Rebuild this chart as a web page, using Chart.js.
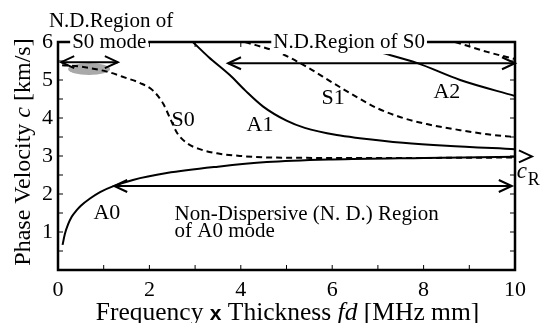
<!DOCTYPE html>
<html>
<head>
<meta charset="utf-8">
<script src="https://cdn.jsdelivr.net/npm/chart.js@4.4.0/dist/chart.umd.min.js"></script>
<style>
    html, body { margin: 0; padding: 0; background: #fff; }
</style>
</head>
<body>
<canvas id="chart" width="541" height="323"></canvas>
<script>
// dispersion curves (fd in MHz mm, c in km/s)
const A0_FD = [0.1, 0.15, 0.22, 0.3, 0.4, 0.5, 0.7, 0.92, 1.2, 1.64, 2.38, 3.5, 4.57, 6, 8, 10, 10.37];
const A0_C  = [0.66, 0.95, 1.2, 1.4, 1.56, 1.69, 1.88, 2.05, 2.2, 2.37, 2.55, 2.72, 2.84, 2.91, 2.95, 2.98, 2.99];

const S0_FD = [0.09, 0.5, 1.07, 1.5, 1.8, 2.08, 2.3, 2.45, 2.6, 2.82, 3.1, 3.48, 4.0, 4.64, 6, 8, 10];
const S0_C  = [5.39, 5.35, 5.22, 5.05, 4.92, 4.72, 4.38, 4.0, 3.62, 3.34, 3.18, 3.07, 3.0, 2.96, 2.95, 2.95, 2.96];

const A1_FD = [2.95, 3.3, 3.76, 4.1, 4.49, 5.0, 5.4, 6.1, 6.6, 7.55, 8.5, 10];
const A1_C  = [6.0, 5.6, 5.13, 4.72, 4.3, 3.93, 3.74, 3.55, 3.47, 3.35, 3.27, 3.18];

const S1_FD = [4.09, 4.86, 5.45, 6.02, 6.54, 7.0, 7.55, 8.07, 8.8, 9.4, 10];
const S1_C  = [6.0, 5.71, 5.34, 4.92, 4.55, 4.25, 4.0, 3.84, 3.68, 3.57, 3.5];

const A2_FD = [7.11, 7.85, 8.8, 10];
const A2_C  = [5.71, 5.45, 5.0, 4.58];

const S2_FD = [8.69, 9.39, 10];
const S2_C  = [6.0, 5.74, 5.55];

const X_TICKS = [0, 2, 4, 6, 8, 10];
const Y_TICKS = [1, 2, 3, 4, 5, 6];

const SERIF = "'Liberation Serif', 'Times New Roman', serif";
const SANS = "'Liberation Sans', Arial, sans-serif";

function pts(xs, ys) {
    return xs.map((x, i) => ({ x: x, y: ys[i] }));
}

function curve(label, xs, ys, dashed) {
    return {
        label: label,
        data: pts(xs, ys),
        showLine: true,
        borderColor: "#000",
        borderWidth: 2,
        borderDash: dashed ? [6, 4] : [],
        pointRadius: 0,
        cubicInterpolationMode: "monotone",
        clip: label === "A0" ? false : undefined,
    };
}

function arrowHead(ctx, x, y, dir) {
    ctx.beginPath();
    ctx.moveTo(x - dir * 13, y - 6);
    ctx.lineTo(x, y);
    ctx.lineTo(x - dir * 13, y + 6);
    ctx.stroke();
}

function doubleArrow(ctx, x1, x2, y) {
    ctx.beginPath();
    ctx.moveTo(x1, y);
    ctx.lineTo(x2, y);
    ctx.stroke();
    arrowHead(ctx, x1, y, -1);
    arrowHead(ctx, x2, y, 1);
}

function richText(ctx, parts, x, y, align) {
    let w = 0;
    parts.forEach(p => { ctx.font = p.font; w += ctx.measureText(p.text).width; });
    let cx = align === "center" ? x - w / 2 : x;
    ctx.textAlign = "left";
    ctx.textBaseline = "alphabetic";
    parts.forEach(p => {
        ctx.font = p.font;
        ctx.fillText(p.text, cx, y);
        cx += ctx.measureText(p.text).width;
    });
}

function boxedText(ctx, text, x, y, font) {
    ctx.font = font;
    const w = ctx.measureText(text).width;
    ctx.fillStyle = "#fff";
    ctx.fillRect(x - w / 2 - 2, y - 16, w + 4, 22);
    ctx.fillStyle = "#000";
    ctx.textAlign = "center";
    ctx.textBaseline = "alphabetic";
    ctx.fillText(text, x, y);
}

const decorations = {
    id: "decorations",
    beforeDatasetsDraw(chart) {
        const ctx = chart.ctx;
        const sx = chart.scales.x, sy = chart.scales.y;
        // shaded N.D. patch of S0 at low fd
        ctx.save();
        ctx.fillStyle = "#a9a9a9";
        ctx.beginPath();
        ctx.ellipse(sx.getPixelForValue(0.68), sy.getPixelForValue(5.29),
            sx.getPixelForValue(0.46) - sx.getPixelForValue(0), 6, 0, 0, Math.PI * 2);
        ctx.fill();
        ctx.restore();
    },
    afterDatasetsDraw(chart) {
        const ctx = chart.ctx;
        const a = chart.chartArea;
        const sx = chart.scales.x, sy = chart.scales.y;
        const X = v => sx.getPixelForValue(v);
        const Y = v => sy.getPixelForValue(v);
        ctx.save();
        ctx.strokeStyle = "#000";
        ctx.fillStyle = "#000";

        // frame
        ctx.lineWidth = 2.5;
        ctx.strokeRect(a.left, a.top, a.right - a.left, a.bottom - a.top);

        // inward ticks
        ctx.lineWidth = 1;
        for (let v = 1; v < 10; v++) {
            ctx.beginPath();
            ctx.moveTo(X(v), a.bottom); ctx.lineTo(X(v), a.bottom - 5);
            ctx.moveTo(X(v), a.top); ctx.lineTo(X(v), a.top + 5);
            ctx.stroke();
        }
        for (let v = 0.5; v < 6; v += 0.5) {
            ctx.beginPath();
            ctx.moveTo(a.left, Y(v)); ctx.lineTo(a.left + 5, Y(v));
            ctx.moveTo(a.right, Y(v)); ctx.lineTo(a.right - 5, Y(v));
            ctx.stroke();
        }

        // arrows
        ctx.lineWidth = 2;
        doubleArrow(ctx, X(0.07), X(1.31), Y(5.47));
        doubleArrow(ctx, X(3.72), X(10), Y(5.44));
        doubleArrow(ctx, X(1.23), X(9.93), Y(2.21));
        arrowHead(ctx, X(A0_FD[A0_FD.length - 1]), Y(A0_C[A0_C.length - 1]), 1);

        // region labels
        const f21 = "21px " + SERIF;
        ctx.font = f21;
        ctx.textAlign = "center";
        ctx.textBaseline = "alphabetic";
        ctx.fillText("N.D.Region of", X(1.16), Y(6.39));
        boxedText(ctx, "S0 mode", X(1.12), Y(5.84), f21);
        boxedText(ctx, "N.D.Region of S0", X(6.37), Y(5.84), f21);

        ctx.font = f21;
        ctx.textAlign = "left";
        ctx.fillText("Non-Dispersive (N. D.) Region", X(2.55), Y(1.32));
        ctx.fillText("of A0 mode", X(2.55), Y(0.87));

        // curve labels
        ctx.font = "22px " + SERIF;
        ctx.textAlign = "center";
        ctx.textBaseline = "middle";
        ctx.fillText("S0", X(2.74), Y(3.95));
        ctx.fillText("A1", X(4.42), Y(3.82));
        ctx.fillText("S1", X(6.02), Y(4.53));
        ctx.fillText("A2", X(8.51), Y(4.68));
        ctx.fillText("A0", X(1.07), Y(1.5));

        // Rayleigh velocity c_R
        richText(ctx, [{ text: "c", font: "italic 23px " + SERIF }], X(10.04), Y(2.42), "left");
        richText(ctx, [{ text: "R", font: "18px " + SERIF }], X(10.28), Y(2.24), "left");

        ctx.restore();
    },
    afterDraw(chart) {
        const ctx = chart.ctx;
        const a = chart.chartArea;
        ctx.save();
        ctx.fillStyle = "#000";
        // x axis title
        richText(ctx, [
            { text: "Frequency ", font: "25.5px " + SERIF },
            { text: "x", font: "bold 21px " + SANS },
            { text: " Thickness ", font: "25.5px " + SERIF },
            { text: "fd", font: "italic 25.5px " + SERIF },
            { text: " [MHz mm]", font: "25.5px " + SERIF },
        ], (a.left + a.right) / 2 + 1, 320, "center");
        // y axis title
        ctx.translate(30, (a.top + a.bottom) / 2 - 4);
        ctx.rotate(-Math.PI / 2);
        richText(ctx, [
            { text: "Phase Velocity ", font: "24px " + SERIF },
            { text: "c", font: "italic 24px " + SERIF },
            { text: " [km/s]", font: "24px " + SERIF },
        ], 0, 0, "center");
        ctx.restore();
    },
};

new Chart(document.getElementById("chart"), {
    type: "scatter",
    data: {
        datasets: [
            curve("A0", A0_FD, A0_C, false),
            curve("S0", S0_FD, S0_C, true),
            curve("A1", A1_FD, A1_C, false),
            curve("S1", S1_FD, S1_C, true),
            curve("A2", A2_FD, A2_C, false),
            curve("S2", S2_FD, S2_C, true),
        ],
    },
    options: {
        responsive: false,
        animation: false,
        devicePixelRatio: 1,
        layout: { padding: { top: 42, right: 26, left: 0, bottom: 0 } },
        plugins: { legend: { display: false }, tooltip: { enabled: false } },
        scales: {
            x: {
                type: "linear",
                min: 0, max: 10,
                afterFit: s => { s.height = 53; },
                afterBuildTicks: s => { s.ticks = X_TICKS.map(v => ({ value: v })); },
                ticks: { font: { family: SERIF, size: 22 }, color: "#000", padding: 7, maxRotation: 0 },
                grid: { display: false, drawTicks: false },
                border: { display: false },
            },
            y: {
                type: "linear",
                min: 0, max: 6,
                afterFit: s => { s.width = 58; },
                afterBuildTicks: s => { s.ticks = Y_TICKS.map(v => ({ value: v })); },
                ticks: { font: { family: SERIF, size: 22 }, color: "#000", padding: 5 },
                grid: { display: false, drawTicks: false },
                border: { display: false },
            },
        },
    },
    plugins: [decorations],
});
</script>
</body>
</html>
